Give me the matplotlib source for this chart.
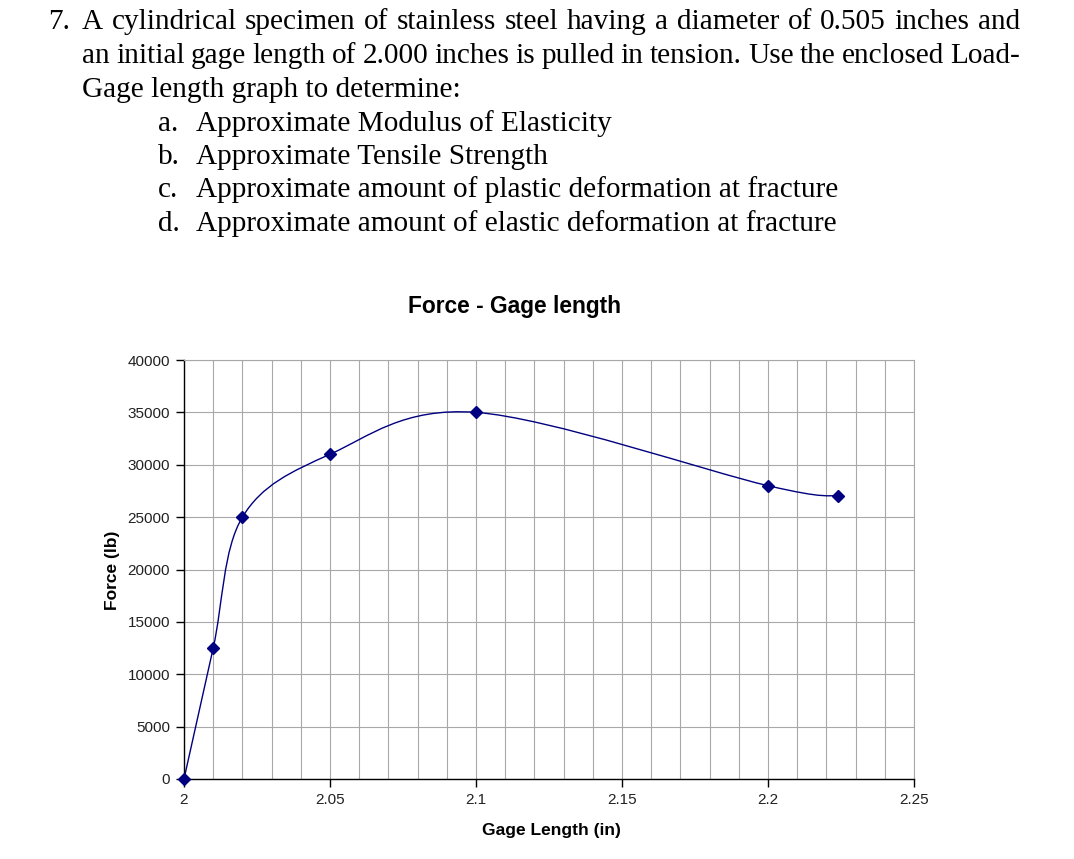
"""Force - Gage length chart with the homework question text above it."""
import numpy as np
import matplotlib
matplotlib.use("Agg")
import matplotlib.pyplot as plt
from matplotlib.path import Path
from matplotlib.patches import PathPatch

# data
gage_length = [2.0, 2.01, 2.02, 2.05, 2.1, 2.2, 2.224]
force = [0, 12500, 25000, 31000, 35000, 28000, 27000]

x_ticks = [2.0, 2.05, 2.1, 2.15, 2.2, 2.25]
x_tick_labels = ["2", "2.05", "2.1", "2.15", "2.2", "2.25"]
y_ticks = [0, 5000, 10000, 15000, 20000, 25000, 30000, 35000, 40000]

question = [
    "A cylindrical specimen of stainless steel having a diameter of 0.505 inches and",
    "an initial gage length of 2.000 inches is pulled in tension. Use the enclosed Load-",
    "Gage length graph to determine:",
]
items = [
    ("a.", "Approximate Modulus of Elasticity"),
    ("b.", "Approximate Tensile Strength"),
    ("c.", "Approximate amount of plastic deformation at fracture"),
    ("d.", "Approximate amount of elastic deformation at fracture"),
]

W, H = 1074, 859
NAVY = "#000080"
GRID = "#a8a8a8"
SERIF = "Liberation Serif"
FS = 21.1


def smooth_path(x, y):
    # Excel-style smoothed line: cubic Bezier through the points
    pts = np.column_stack([x, y]).astype(float)
    n = len(pts)
    verts = [pts[0]]
    codes = [Path.MOVETO]
    for i in range(n - 1):
        p0 = pts[max(i - 1, 0)]
        p1 = pts[i]
        p2 = pts[i + 1]
        p3 = pts[min(i + 2, n - 1)]
        verts += [p1 + (p2 - p0) / 6, p2 - (p3 - p1) / 6, p2]
        codes += [Path.CURVE4] * 3
    return Path(verts, codes)


def justified(fig, text, x0, x1, yb):
    # spread the words so the line fills x0..x1 pixels
    r = fig.canvas.get_renderer()
    words = text.split()
    objs = [fig.text(0, 1 - yb / H, w, family=SERIF, fontsize=FS, va="baseline")
            for w in words]
    widths = [t.get_window_extent(r).width for t in objs]
    gap = (x1 - x0 - sum(widths)) / (len(words) - 1)
    x = x0
    for t, w in zip(objs, widths):
        t.set_x(x / W)
        x += w + gap


fig = plt.figure(figsize=(W / 100, H / 100), dpi=100)

# question text
fig.text(48 / W, 1 - 29 / H, "7.", family=SERIF, fontsize=FS, va="baseline")
justified(fig, question[0], 82, 1020, 29)
justified(fig, question[1], 82, 1020, 63)
fig.text(82 / W, 1 - 97 / H, question[2], family=SERIF, fontsize=FS, va="baseline")
for (num, txt), yb in zip(items, [131, 164, 197, 231]):
    fig.text(158 / W, 1 - yb / H, num, family=SERIF, fontsize=FS, va="baseline")
    fig.text(196 / W, 1 - yb / H, txt, family=SERIF, fontsize=FS, va="baseline")

# chart
ax = fig.add_axes([184 / W, 1 - 779 / H, (914 - 184) / W, (779 - 360) / H])
ax.set_xlim(2.0, 2.25)
ax.set_ylim(0, 40000)

ax.set_xticks(np.arange(2.0, 2.2501, 0.01), minor=True)
ax.set_xticks(x_ticks)
ax.set_xticklabels(x_tick_labels)
ax.set_yticks(y_ticks)
ax.grid(True, which="both", color=GRID, linewidth=0.8)
ax.tick_params(which="minor", length=0)
ax.tick_params(which="major", length=6, width=1, color="black",
               labelsize=11, labelcolor="#222222", pad=4)
ax.set_axisbelow(True)

for side in ("top", "right"):
    ax.spines[side].set_color(GRID)
for side in ("left", "bottom"):
    ax.spines[side].set_color("black")
    ax.spines[side].set_linewidth(1.0)

for lab in ax.get_xticklabels() + ax.get_yticklabels():
    lab.set_family("Liberation Sans")

ax.add_patch(PathPatch(smooth_path(gage_length, force), facecolor="none",
                       edgecolor=NAVY, linewidth=1.0, clip_on=False))
ax.plot(gage_length, force, linestyle="none", marker="D", markersize=6,
        color=NAVY, clip_on=False, zorder=5)

fig.text(515 / W, 1 - 306 / H, "Force - Gage length", family="Liberation Sans",
         fontsize=16.4, fontweight="bold", ha="center", va="center")
fig.text(551 / W, 1 - 830 / H, "Gage Length (in)", family="Liberation Sans",
         fontsize=12.5, fontweight="bold", ha="center", va="center")
fig.text(113 / W, 1 - 570 / H, "Force (lb)", family="Liberation Sans",
         fontsize=12.5, fontweight="bold", ha="center", va="center", rotation=90)

fig.savefig("out.png", dpi=100)
